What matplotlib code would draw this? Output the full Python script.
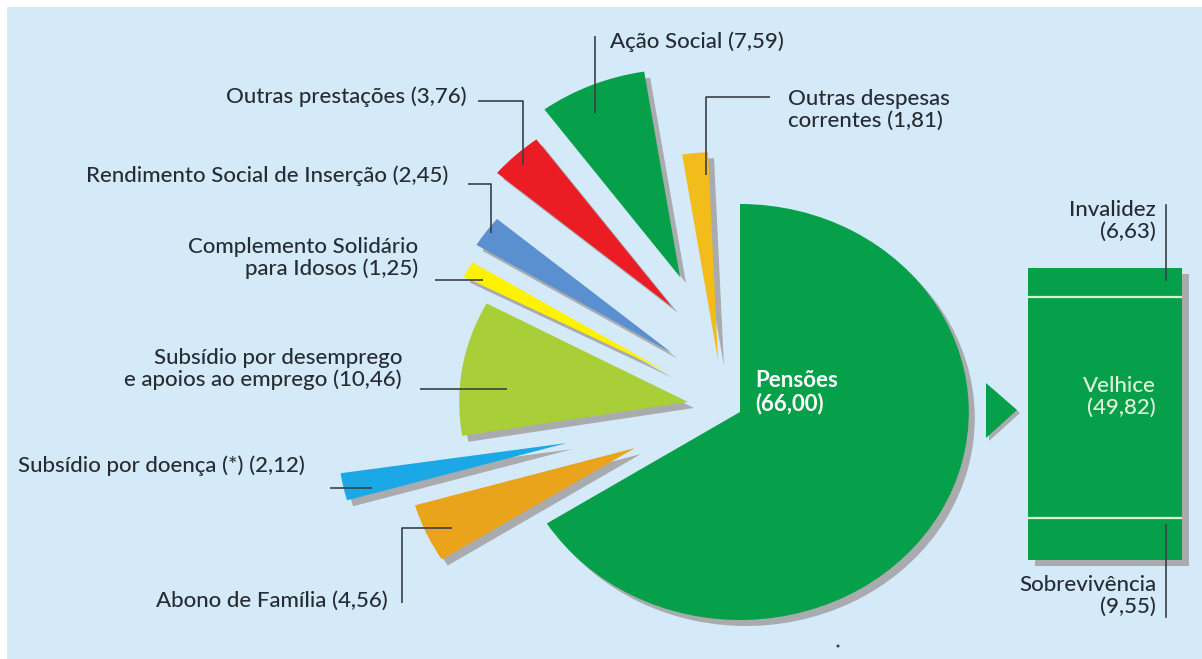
import matplotlib
matplotlib.use("Agg")
import matplotlib.pyplot as plt
from matplotlib.patches import Rectangle, Polygon, Circle

# Despesa da Segurança Social por função (% do total)
categorias = ["Outras despesas\ncorrentes", "Ação Social", "Outras prestações",
              "Rendimento Social de Inserção", "Complemento Solidário\npara Idosos",
              "Subsídio por desemprego\ne apoios ao emprego", "Subsídio por doença (*)",
              "Abono de Família", "Pensões"]
valores = [1.81, 7.59, 3.76, 2.45, 1.25, 10.46, 2.12, 4.56, 66.00]

# Decomposição das pensões
pensoes_tipos = ["Invalidez", "Velhice", "Sobrevivência"]
pensoes_valores = [6.63, 49.82, 9.55]

cores = ["#f2bd1a", "#06a04a", "#ec1c24", "#5a8fd0", "#fff200",
         "#a8cf38", "#1aa9e6", "#e9a41c", "#06a04a"]

W, H = 1202, 659
SX = 1.1            # horizontal stretch of the pie
BG = "#d5eaf8"
SOMBRA = "#a9abae"
TXT = "#262c33"
LINHA = "#3a4047"
VERDE = "#06a04a"

plt.rcParams["font.family"] = ["Lato", "DejaVu Sans"]


def fmt(v):
    return f"({v:.2f})".replace(".", ",")


fig = plt.figure(figsize=(W / 100, H / 100), dpi=100, facecolor="white")


def pixel_axes(z):
    ax = fig.add_axes([0, 0, 1, 1], zorder=z)
    ax.set_xlim(0, W)
    ax.set_ylim(H, 0)
    ax.axis("off")
    ax.patch.set_facecolor("none")
    return ax


# background, box shadow and arrow
ax_bg = pixel_axes(0)
ax_bg.add_patch(Rectangle((7, 7), W - 7, H - 7, color=BG, lw=0))
ax_bg.add_patch(Rectangle((1035, 274), 154, 292, color=SOMBRA, lw=0))
ax_bg.add_patch(Polygon([(989, 386), (989, 441), (1020, 413)], closed=True, color=SOMBRA, lw=0))
ax_bg.add_patch(Polygon([(986, 383), (986, 438), (1017, 410)], closed=True, color=VERDE, lw=0))

# exploded pie
ax_pie = fig.add_axes([0, 0, 1, 1], zorder=1)
ax_pie.patch.set_facecolor("none")
R = 208
cx, cy = 740 / SX, H - 412
sh_dx, sh_dy = 6, 6
# pixel displacement of each slice's apex and extra turn of the small slices
deslocamentos = [(-22, -52), (-60, -135), (-68, -105), (-68, -59), (-73, -40),
                 (-52, -10), (-173, 31), (-105, 36), (0, 0)]
rotacao = [2.5, 2.5, 2.5, 2.5, 2.0, 1.0, 0.0, 0.0, 0.0]

sombras, _ = ax_pie.pie(valores, colors=[SOMBRA] * len(valores), startangle=90,
                        radius=R, center=(cx, cy), wedgeprops=dict(linewidth=0))
fatias, _ = ax_pie.pie(valores, colors=cores, startangle=90,
                       radius=R, center=(cx, cy), wedgeprops=dict(linewidth=0))
for f, s, (dx, dy), rot in zip(fatias, sombras, deslocamentos, rotacao):
    f.set_center((cx + dx / SX, cy - dy))
    s.set_center((cx + (dx + sh_dx) / SX, cy - (dy + sh_dy)))
    for p in (f, s):
        p.set_theta1(p.theta1 + rot)
        p.set_theta2(p.theta2 + rot)
ax_pie.set_aspect("auto")
ax_pie.set_xlim(0, W / SX)
ax_pie.set_ylim(0, H)
ax_pie.axis("off")

# pensions breakdown box
ax_box = fig.add_axes([1028 / W, 1 - 560 / H, 154 / W, 292 / H], zorder=2)
ax_box.patch.set_facecolor("none")
base = [sum(pensoes_valores[:i]) for i in range(len(pensoes_valores))]
ax_box.bar([0] * len(pensoes_valores), pensoes_valores, bottom=base, width=1.0,
           color=VERDE, linewidth=0)
ax_box.hlines(base[1:], -0.5, 0.5, color="#d9f3d2", linewidth=1.6)
ax_box.set_xlim(-0.5, 0.5)
ax_box.set_ylim(sum(pensoes_valores), 0)
ax_box.axis("off")

# labels and leader lines
ax_t = pixel_axes(3)
FS = 16
LS = 1.12
WT = "medium"
lw = 1.2

leaders = [
    [(770, 97), (706, 97), (706, 175)],
    [(595, 36), (595, 113)],
    [(478, 101), (523, 101), (523, 165)],
    [(468, 184), (491, 184), (491, 233)],
    [(435, 280), (483, 280)],
    [(420, 389), (507, 389)],
    [(330, 488), (372, 488)],
    [(402, 603), (402, 528), (452, 528)],
]
for pts in leaders:
    xs, ys = zip(*pts)
    ax_t.plot(xs, ys, color=LINHA, lw=lw, solid_capstyle="butt")

pos = [(788, 110, "left"), (610, 42, "left"), (467, 97, "right"),
       (448, 176, "right"), (418, 258, "right"), (402, 369, "right"),
       (305, 466, "right"), (388, 601, "right")]
for nome, v, (x, y, ha) in zip(categorias[:-1], valores[:-1], pos):
    ax_t.text(x, y, f"{nome} {fmt(v)}", ha=ha, va="center", fontsize=FS,
              color=TXT, linespacing=LS, fontweight=WT)

ax_t.text(755, 392, f"{categorias[-1]}\n{fmt(valores[-1])}", ha="left", va="center",
          fontsize=FS, color="white", fontweight="bold", linespacing=LS)

# pension type labels
ax_t.plot([1166, 1166], [205, 280], color=LINHA, lw=lw)
ax_t.plot([1166, 1166], [525, 617], color=LINHA, lw=lw)
ax_t.text(1156, 221, f"{pensoes_tipos[0]}\n{fmt(pensoes_valores[0])}", ha="right",
          va="center", fontsize=FS, color=TXT, linespacing=LS, multialignment="right",
          fontweight=WT)
ax_t.text(1156, 397, f"{pensoes_tipos[1]}\n{fmt(pensoes_valores[1])}", ha="right",
          va="center", fontsize=FS, color="#e2f5dc", linespacing=LS, multialignment="right",
          fontweight=WT)
ax_t.text(1156, 596, f"{pensoes_tipos[2]}\n{fmt(pensoes_valores[2])}", ha="right",
          va="center", fontsize=FS, color=TXT, linespacing=LS, multialignment="right",
          fontweight=WT)

ax_t.add_patch(Circle((838, 646), 1.5, color=LINHA, lw=0))

fig.savefig("out.png", dpi=100, facecolor="white")
